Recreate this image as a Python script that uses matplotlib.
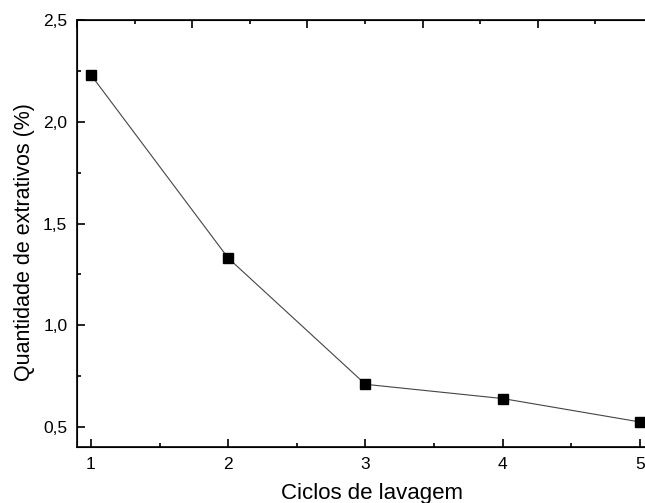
import matplotlib
matplotlib.use('Agg')
import matplotlib.pyplot as plt
from matplotlib.ticker import MultipleLocator, FuncFormatter

# dados
ciclos = [1, 2, 3, 4, 5]
extrativos = [2.23, 1.33, 0.71, 0.64, 0.525]

plt.rcParams['font.family'] = ['Liberation Sans', 'DejaVu Sans']

fig = plt.figure(figsize=(6.45, 5.03), dpi=100)
ax = fig.add_axes([77 / 645, 1 - 447 / 503, (653 - 77) / 645, (447 - 20) / 503])

ax.plot(ciclos, extrativos, color='#444444', linewidth=0.8,
        marker='s', markersize=6.5, markerfacecolor='black', markeredgecolor='black')

ax.set_xlim(0.898, 5.095)
ax.set_ylim(0.402, 2.5)

ax.xaxis.set_major_locator(MultipleLocator(1))
ax.xaxis.set_minor_locator(MultipleLocator(0.5))
ax.yaxis.set_major_locator(MultipleLocator(0.5))
ax.yaxis.set_minor_locator(MultipleLocator(0.25))
ax.yaxis.set_major_formatter(FuncFormatter(lambda v, p: f'{v:.1f}'.replace('.', ',')))
ax.xaxis.set_major_formatter(FuncFormatter(lambda v, p: f'{v:.0f}'))

ax.tick_params(which='both', direction='in', labelsize=12.5, width=1.2)
ax.tick_params(axis='x', pad=7)
ax.tick_params(axis='y', pad=7)
ax.tick_params(which='major', length=6)
ax.tick_params(which='minor', length=3)
ax.tick_params(right=False, top=False)

for s in ax.spines.values():
    s.set_linewidth(1.2)

# eixo superior com escala própria (só marcas)
top = ax.twiny()
top.set_xlim(0, 5)
top.xaxis.set_major_locator(MultipleLocator(1))
top.xaxis.set_minor_locator(MultipleLocator(0.5))
top.tick_params(which='both', direction='in', labeltop=False, width=1.2)
top.tick_params(which='major', length=6)
top.tick_params(which='minor', length=3)

ax.set_xlabel('Ciclos de lavagem', fontsize=16, labelpad=8)
ax.set_ylabel('Quantidade de extrativos (%)', fontsize=15.5, labelpad=6)
ax.xaxis.label.set_x(0.512)
ax.yaxis.label.set_y(0.48)

plt.savefig('out.png', dpi=100)
plt.close()
